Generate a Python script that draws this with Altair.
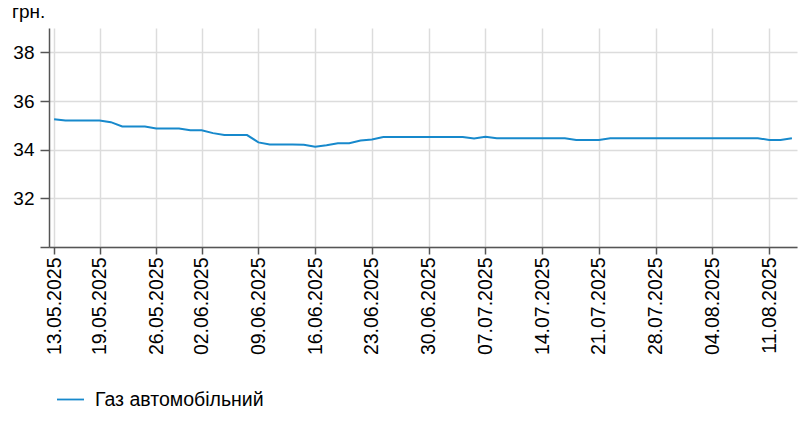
import altair as alt
import pandas as pd

# Trading days shown on the x axis (dd.mm.yyyy)
dates = [
    "13.05.2025", "14.05.2025", "15.05.2025", "16.05.2025",
    "19.05.2025", "20.05.2025", "21.05.2025", "22.05.2025", "23.05.2025",
    "26.05.2025", "27.05.2025", "28.05.2025", "29.05.2025",
    "02.06.2025", "03.06.2025", "04.06.2025", "05.06.2025", "06.06.2025",
    "09.06.2025", "10.06.2025", "11.06.2025", "12.06.2025", "13.06.2025",
    "16.06.2025", "17.06.2025", "18.06.2025", "19.06.2025", "20.06.2025",
    "23.06.2025", "24.06.2025", "25.06.2025", "26.06.2025", "27.06.2025",
    "30.06.2025", "01.07.2025", "02.07.2025", "03.07.2025", "04.07.2025",
    "07.07.2025", "08.07.2025", "09.07.2025", "10.07.2025", "11.07.2025",
    "14.07.2025", "15.07.2025", "16.07.2025", "17.07.2025", "18.07.2025",
    "21.07.2025", "22.07.2025", "23.07.2025", "24.07.2025", "25.07.2025",
    "28.07.2025", "29.07.2025", "30.07.2025", "31.07.2025", "01.08.2025",
    "04.08.2025", "05.08.2025", "06.08.2025", "07.08.2025", "08.08.2025",
    "11.08.2025", "12.08.2025", "13.08.2025",
]

# Price, UAH
prices = [
    35.25, 35.20, 35.20, 35.20,
    35.20, 35.13, 34.95, 34.95, 34.95,
    34.87, 34.87, 34.87, 34.80,
    34.80, 34.68, 34.60, 34.60, 34.60,
    34.30, 34.21, 34.21, 34.21, 34.20,
    34.12, 34.18, 34.26, 34.26, 34.38,
    34.42, 34.52, 34.52, 34.52, 34.52,
    34.52, 34.52, 34.52, 34.52, 34.46,
    34.53, 34.47, 34.47, 34.47, 34.47,
    34.47, 34.47, 34.47, 34.40, 34.40,
    34.40, 34.47, 34.47, 34.47, 34.47,
    34.47, 34.47, 34.47, 34.47, 34.47,
    34.47, 34.47, 34.47, 34.47, 34.47,
    34.40, 34.40, 34.47,
]

tick_labels = [
    "13.05.2025", "19.05.2025", "26.05.2025", "02.06.2025", "09.06.2025",
    "16.06.2025", "23.06.2025", "30.06.2025", "07.07.2025", "14.07.2025",
    "21.07.2025", "28.07.2025", "04.08.2025", "11.08.2025",
]
y_ticks = [30, 32, 34, 36, 38]
series_name = "Газ автомобільний"
unit_label = "грн."

df = pd.DataFrame({"date": dates, "price": prices, "series": series_name})
unit_df = pd.DataFrame({"label": [unit_label]})

FONT = "Liberation Sans"
AXIS_COLOR = "#555555"
GRID_COLOR = "#dcdcdc"

line = (
    alt.Chart(df)
    .mark_line(strokeWidth=2, interpolate="linear")
    .encode(
        x=alt.X(
            "date:O",
            sort=dates,
            scale=alt.Scale(type="point", padding=0.45),
            axis=alt.Axis(
                values=tick_labels,
                title=None,
                labelAngle=-90,
                labelFont=FONT,
                labelFontSize=19.5,
                labelColor="#000000",
                labelPadding=3,
                labelOverlap=False,
                tickSize=7,
                tickColor=AXIS_COLOR,
                tickWidth=1.5,
                domainColor=AXIS_COLOR,
                domainWidth=1.5,
                grid=True,
                gridColor=GRID_COLOR,
                gridWidth=1.5,
            ),
        ),
        y=alt.Y(
            "price:Q",
            scale=alt.Scale(domain=[30, 39], nice=False, zero=False),
            axis=alt.Axis(
                values=y_ticks,
                labelExpr="datum.value == 30 ? '' : datum.label",
                title=None,
                labelFont=FONT,
                labelFontSize=19,
                labelColor="#000000",
                labelPadding=6,
                tickSize=9,
                tickColor=AXIS_COLOR,
                tickWidth=1.5,
                domainColor=AXIS_COLOR,
                domainWidth=1.5,
                grid=True,
                gridColor=GRID_COLOR,
                gridWidth=1.5,
            ),
        ),
        color=alt.Color(
            "series:N",
            scale=alt.Scale(domain=[series_name], range=["#1789cc"]),
            legend=alt.Legend(
                title=None,
                orient="none",
                legendX=7,
                legendY=357,
                symbolType="stroke",
                symbolSize=729,
                symbolStrokeWidth=1.8,
                labelFont=FONT,
                labelFontSize=19.5,
                labelColor="#000000",
                labelOffset=10,
                labelLimit=0,
            ),
        ),
    )
)

unit_text = (
    alt.Chart(unit_df)
    .mark_text(
        align="left",
        baseline="alphabetic",
        font=FONT,
        fontSize=19,
        color="#000000",
    )
    .encode(text="label:N", x=alt.value(-37), y=alt.value(-10))
)

chart = (
    alt.layer(line, unit_text)
    .properties(
        width=748,
        height=219,
        autosize="none",
        padding={"left": 41, "top": 20, "right": 3, "bottom": 170},
    )
    .configure_view(stroke=None)
)

chart.save("out.html", embed_options={"renderer": "svg", "actions": False})
